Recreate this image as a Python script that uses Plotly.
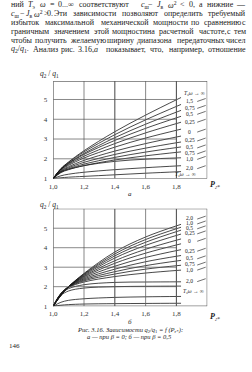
import re
import plotly.graph_objects as go

W, H = 252, 372
def px(x): return x / W
def py(y): return 1 - y / H

# ---------------- data ----------------
P_grid = [1.0, 1.05, 1.1, 1.2, 1.4, 1.6, 1.83]

# chart a (beta = 0): q2/q1 curves
curves_a = [
    [1.0, 1.50, 1.84, 2.41, 3.37, 4.21, 5.10],
    [1.0, 1.50, 1.82, 2.35, 3.22, 3.97, 4.75],
    [1.0, 1.48, 1.78, 2.27, 3.07, 3.75, 4.45],
    [1.0, 1.48, 1.76, 2.22, 2.93, 3.54, 4.15],
    [1.0, 1.46, 1.72, 2.13, 2.77, 3.31, 3.85],
    [1.0, 1.44, 1.67, 2.04, 2.59, 3.05, 3.50],
    [1.0, 1.40, 1.60, 1.92, 2.39, 2.77, 3.15],
    [1.0, 1.37, 1.55, 1.82, 2.22, 2.54, 2.85],
    [1.0, 1.34, 1.50, 1.73, 2.07, 2.34, 2.60],
    [1.0, 1.33, 1.47, 1.66, 1.94, 2.15, 2.35],
    [1.0, 1.30, 1.45, 1.65, 1.87, 1.98, 2.05],
    [1.0, 1.14, 1.22, 1.32, 1.45, 1.55, 1.65],
    [1.0, 1.04, 1.07, 1.11, 1.19, 1.27, 1.35],
]
# chart b (beta = 0.5)
curves_b = [
    [1.0, 1.55, 2.00, 2.68, 3.78, 4.55, 5.20],
    [1.0, 1.55, 2.00, 2.65, 3.68, 4.42, 5.05],
    [1.0, 1.56, 2.00, 2.62, 3.58, 4.28, 4.90],
    [1.0, 1.57, 2.00, 2.58, 3.47, 4.12, 4.70],
    [1.0, 1.58, 2.00, 2.54, 3.33, 3.92, 4.45],
    [1.0, 1.60, 2.00, 2.50, 3.20, 3.72, 4.20],
    [1.0, 1.62, 2.00, 2.45, 3.05, 3.50, 3.90],
    [1.0, 1.63, 2.00, 2.40, 2.90, 3.28, 3.60],
    [1.0, 1.64, 1.99, 2.35, 2.77, 3.08, 3.35],
    [1.0, 1.65, 1.98, 2.30, 2.65, 2.90, 3.10],
    [1.0, 1.65, 1.96, 2.24, 2.52, 2.70, 2.85],
    [1.0, 1.62, 1.90, 2.10, 2.22, 2.24, 2.25],
    [1.0, 1.55, 1.78, 1.93, 2.00, 2.02, 2.03],
    [1.0, 1.20, 1.30, 1.38, 1.45, 1.48, 1.50],
    [1.0, 1.05, 1.08, 1.11, 1.13, 1.14, 1.15],
]

TW = "<i>T</i><sub>э</sub><i>ω</i> → ∞"
labels_a = [TW, "1,5", "0,75", "0,5", "0,25", "0", "0,25", "0,5", "0,75", "1,0", "2,0", TW]
labels_a_y = [5.30, 4.93, 4.58, 4.28, 3.88, 3.38, 2.93, 2.58, 2.28, 2.00, 1.53, 1.22]
labels_a_x = [1.92, 1.885, 1.885, 1.885, 1.885, 1.885, 1.885, 1.885, 1.885, 1.885, 1.885, 1.86]

labels_b = ["2,0", "1,0", "0,5", "0,25", "0", "0,25", "0,5", "0,75", "1,0", "2,0", TW]
labels_b_y = [5.50, 5.25, 5.00, 4.74, 4.36, 3.85, 3.46, 3.14, 2.88, 2.29, 1.74]
labels_b_x = [1.885] * 10 + [1.91]

x_ticks = [1.0, 1.2, 1.4, 1.6, 1.8]
x_ticktext = ["1,0", "1,2", "1,4", "1,6", "1,8"]
y_ticks = [1, 2, 3, 4, 5]
y_ticktext = ["1", "2", "3", "4", "5"]

text_lines = [
    "ний <i>T</i><sub>э</sub> <i>ω</i> = 0...∞ соответствуют <i>c</i><sub>ш</sub> − <i>J</i><sub>в</sub> <i>ω</i><sup>2</sup> &lt; 0, а нижние —",
    "<i>c</i><sub>ш</sub> − <i>J</i><sub>в</sub> <i>ω</i><sup>2</sup> &gt; 0. Эти зависимости позволяют определить требуемый",
    "избыток максимальной механической мощности по сравнению с",
    "граничным значением этой мощности на расчетной частоте, с тем",
    "чтобы получить желаемую ширину диапазона передаточных чисел",
    "<i>q</i><sub>2</sub>/<i>q</i><sub>1</sub>. Анализ рис. 3.16, <i>а</i> показывает, что, например, отношение",
]
text_y = [5, 14, 23, 32, 41, 50]

caption = [
    "<i>Рис. 3.16. Зависимости q</i><sub>2</sub><i>/q</i><sub>1</sub><i> = f (P</i><sub>г*</sub><i>):</i>",
    "<i>а — при β = 0; б — при β = 0,5</i>",
]

FONT = "Liberation Serif"
INK = "#1a1a1a"
GRID = "#555555"

fig = go.Figure()

xdom = [px(50), px(206.5)]
ydom_a = [py(180.5), py(82)]
ydom_b = [py(309.5), py(211)]
yr_a = [1, 5.93]
yr_b = [1, 6.0]

for c in curves_a:
    fig.add_trace(go.Scatter(x=P_grid, y=c, mode="lines", line=dict(color="#1a1a1a", width=0.8, shape="spline"),
                             xaxis="x", yaxis="y", showlegend=False, hoverinfo="skip"))
for c in curves_b:
    fig.add_trace(go.Scatter(x=P_grid, y=c, mode="lines", line=dict(color="#1a1a1a", width=0.8, shape="spline"),
                             xaxis="x2", yaxis="y2", showlegend=False, hoverinfo="skip"))

axis_common = dict(showgrid=False, zeroline=False, showline=False, ticks="",
                   tickfont=dict(family=FONT, size=7, color="#333"))
fig.update_layout(
    width=W, height=H, autosize=False,
    margin=dict(l=0, r=0, t=0, b=0),
    paper_bgcolor="white", plot_bgcolor="white",
    xaxis=dict(domain=xdom, range=[1.0, 2.0], anchor="y", tickvals=x_ticks, ticktext=x_ticktext,
               ticklabelstandoff=2, **axis_common),
    yaxis=dict(domain=ydom_a, range=yr_a, anchor="x", tickvals=y_ticks, ticktext=y_ticktext,
               ticklabelstandoff=5, **axis_common),
    xaxis2=dict(domain=xdom, range=[1.0, 2.0], anchor="y2", tickvals=x_ticks, ticktext=x_ticktext,
                ticklabelstandoff=2, **axis_common),
    yaxis2=dict(domain=ydom_b, range=yr_b, anchor="x2", tickvals=y_ticks, ticktext=y_ticktext,
                ticklabelstandoff=5, **axis_common),
)

shapes = []
for xr, yr, yrange in [("x", "y", yr_a), ("x2", "y2", yr_b)]:
    ymax = yrange[1]
    shapes.append(dict(type="rect", xref=xr, yref=yr, x0=1.0, x1=2.0, y0=1, y1=ymax,
                       line=dict(color="#333", width=0.9)))
    for xv in x_ticks[1:]:
        w = 1.1 if xv in (1.4, 1.8) else 0.7
        shapes.append(dict(type="line", xref=xr, yref=yr, x0=xv, x1=xv, y0=1, y1=ymax,
                           line=dict(color=GRID, width=w)))
    for yv in y_ticks[1:]:
        shapes.append(dict(type="line", xref=xr, yref=yr, x0=1.0, x1=1.8, y0=yv, y1=yv,
                           line=dict(color=GRID, width=0.7)))

annotations = []
def ann(text, x, y, size=7, xanchor="center", xref="paper", yref="paper"):
    annotations.append(dict(text=text, x=x, y=y, xref=xref, yref=yref, showarrow=False,
                            xanchor=xanchor, yanchor="middle",
                            font=dict(family=FONT, size=size, color=INK)))

for labs, ys, xs, xr, yr in [(labels_a, labels_a_y, labels_a_x, "x", "y"),
                              (labels_b, labels_b_y, labels_b_x, "x2", "y2")]:
    for t, yv, xv in zip(labs, ys, xs):
        ann(t, xv, yv, size=5.5, xref=xr, yref=yr)
        if t != TW:
            shapes.append(dict(type="line", xref=xr, yref=yr, x0=1.935, x1=1.99, y0=yv - 0.03, y1=yv + 0.12,
                               line=dict(color="#333", width=0.7)))

# axis titles and panel letters
for ytop, letter, ylet, yP in [(75, "а", 196, 187), (207, "б", 325, 320)]:
    ann("<i>q</i><sub>2</sub> / <i>q</i><sub>1</sub>", px(46), py(ytop), size=7.5)
    ann("<i>" + letter + "</i>", px(128), py(ylet), size=7)
    ann("<b><i>P</i></b><sub><i>г*</i></sub>", px(214), py(yP), size=8)

# justified paragraph: estimate word widths (Times-like metrics) and spread words
WIDE = set("жмфшщыюЖМФШЩЫЮω∞")
NARROW = set(".,;:!()ijlrt/'")
MID = set("гзсэеаьcJ")
def char_em(ch):
    if ch in WIDE: return 0.72
    if ch in NARROW: return 0.28
    if ch in MID: return 0.44
    if ch in "—": return 1.0
    if ch in "−=<>": return 0.56
    if ch.isupper(): return 0.68
    return 0.5

def word_px(word, size=8):
    total = 0.0
    for m in re.finditer(r"<(sub|sup)>(.*?)</\1>|<[^>]+>|&[a-z]+;|.", word):
        s = m.group(0)
        if m.group(1):
            total += 0.7 * sum(char_em(c) for c in m.group(2))
        elif s.startswith("<"):
            continue
        elif s.startswith("&"):
            total += 0.56
        else:
            total += char_em(s)
    return total * size * 1.12

LEFT, RIGHT = 5, 248
for line, yv in zip(text_lines, text_y):
    words = line.split(" ")
    widths = [word_px(w) for w in words]
    n = len(words)
    gap = (RIGHT - LEFT - sum(widths)) / (n - 1)
    half = n // 2
    x = LEFT
    for i in range(half):
        ann(words[i], px(x), py(yv), size=8, xanchor="left")
        x += widths[i] + gap
    x = RIGHT
    for i in range(n - 1, half - 1, -1):
        ann(words[i], px(x), py(yv), size=8, xanchor="right")
        x -= widths[i] + gap

ann(caption[0], px(128), py(333.5), size=6.5)
ann(caption[1], px(128), py(340), size=6.5)
ann("146", px(11), py(350), size=7)

fig.update_layout(shapes=shapes, annotations=annotations)
fig.write_html("out.html")
